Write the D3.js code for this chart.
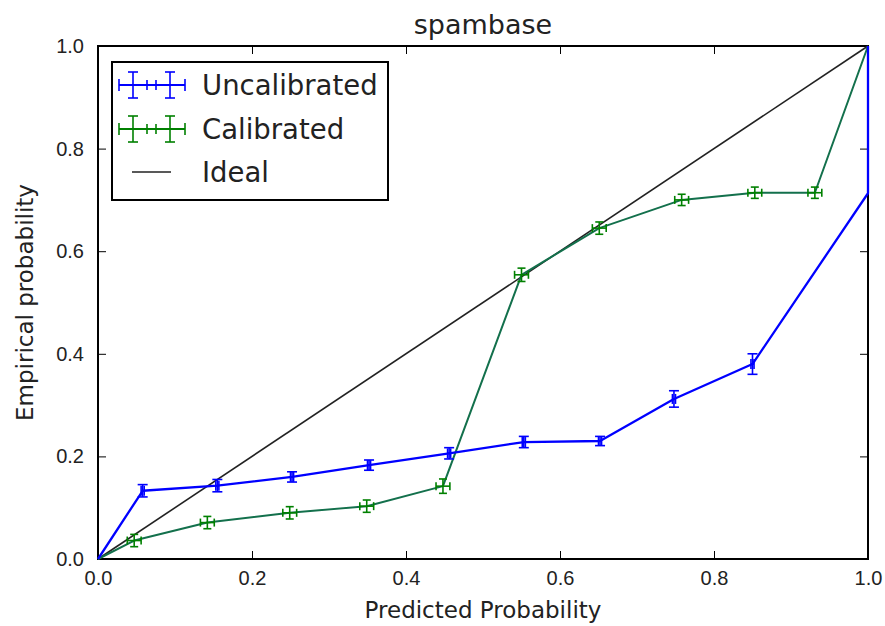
<!DOCTYPE html>
<html>
<head>
<meta charset="utf-8">
<script src="https://cdn.jsdelivr.net/npm/d3@7"></script>
<style>
  html, body { margin: 0; padding: 0; background: #fff; }
  svg { display: block; font-family: "DejaVu Sans", sans-serif; }
</style>
</head>
<body>
<svg id="chart" width="885" height="626"></svg>
<script>
// Reliability curve data for the spambase classifier
const uncalX    = [0, 0.058, 0.155, 0.252, 0.352, 0.456, 0.553, 0.652, 0.748, 0.850, 1.0, 1.0];
const uncalY    = [0, 0.133, 0.143, 0.160, 0.183, 0.206, 0.228, 0.230, 0.312, 0.380, 0.713, 1.0];
const uncalYErr = [0, 0.012, 0.012, 0.010, 0.010, 0.011, 0.011, 0.009, 0.016, 0.020, 0, 0];
const uncalXErr = [0, 0.002, 0.002, 0.002, 0.002, 0.002, 0.002, 0.002, 0.002, 0.002, 0, 0];

const calX    = [0, 0.047, 0.142, 0.249, 0.349, 0.448, 0.550, 0.651, 0.758, 0.853, 0.931, 1.0];
const calY    = [0, 0.036, 0.071, 0.090, 0.103, 0.142, 0.554, 0.645, 0.700, 0.714, 0.714, 1.0];
const calYErr = [0, 0.012, 0.012, 0.012, 0.012, 0.014, 0.013, 0.012, 0.011, 0.011, 0.011, 0];
const calXErr = [0, 0.009, 0.009, 0.009, 0.009, 0.009, 0.009, 0.009, 0.009, 0.009, 0.009, 0];

const idealX = [0, 1];
const idealY = [0, 1];

const tickValues = [0, 0.2, 0.4, 0.6, 0.8, 1.0];
const titleText = "spambase";
const xLabel = "Predicted Probability";
const yLabel = "Empirical probability";
const legendLabels = ["Uncalibrated", "Calibrated", "Ideal"];

const BLUE = "#0000ff";
const GREEN = "#008000";
const GREEN_LINE = "#13704c";
const TEXT = "#222";

const svg = d3.select("#chart");
const plotLeft = 98, plotRight = 868, plotTop = 46, plotBottom = 559;

const x = d3.scaleLinear().domain([0, 1]).range([plotLeft, plotRight]);
const y = d3.scaleLinear().domain([0, 1]).range([plotBottom, plotTop]);

// Frame first so the data lines sit on top of the spines
svg.append("rect")
  .attr("x", plotLeft).attr("y", plotTop).attr("width", plotRight - plotLeft).attr("height", plotBottom - plotTop)
  .attr("fill", "none").attr("stroke", "#000").attr("stroke-width", 2);

// Axes with inward ticks on all four sides
const fmt = d3.format(".1f");
const tickLen = 8;
function styleAxis(g) {
  g.select(".domain").remove();
  g.selectAll(".tick line").attr("stroke", "#000").attr("stroke-width", 1);
  g.selectAll(".tick text").attr("fill", TEXT).style("font-size", "20px");
}
svg.append("g").attr("transform", `translate(0,${plotBottom})`)
  .call(d3.axisBottom(x).tickValues(tickValues).tickFormat(fmt).tickSizeInner(-tickLen).tickPadding(12))
  .call(styleAxis);
svg.append("g").attr("transform", `translate(0,${plotTop})`)
  .call(d3.axisTop(x).tickValues(tickValues).tickFormat("").tickSizeInner(-tickLen))
  .call(styleAxis);
svg.append("g").attr("transform", `translate(${plotLeft},0)`)
  .call(d3.axisLeft(y).tickValues(tickValues).tickFormat(fmt).tickSizeInner(-tickLen).tickPadding(14))
  .call(styleAxis);
svg.append("g").attr("transform", `translate(${plotRight},0)`)
  .call(d3.axisRight(y).tickValues(tickValues).tickFormat("").tickSizeInner(-tickLen))
  .call(styleAxis);

const plot = svg.append("g");

// Ideal diagonal
plot.append("path")
  .datum(d3.zip(idealX, idealY))
  .attr("d", d3.line().x(d => x(d[0])).y(d => y(d[1])))
  .attr("fill", "none").attr("stroke", "#222").attr("stroke-width", 1.6);

function drawSeries(xs, ys, xe, ye, lineColor, barColor, width, cap) {
  const pts = xs.map((v, i) => ({x: v, y: ys[i], xe: xe[i], ye: ye[i]}));
  plot.append("path")
    .datum(pts)
    .attr("d", d3.line().x(d => x(d.x)).y(d => y(d.y)))
    .attr("fill", "none").attr("stroke", lineColor).attr("stroke-width", width)
    .attr("stroke-linejoin", "round");
  const bars = plot.append("g").attr("stroke", barColor).attr("stroke-width", 1.6);
  pts.filter(d => d.ye > 0).forEach(d => {
    const cx = x(d.x), y0 = y(d.y - d.ye), y1 = y(d.y + d.ye);
    bars.append("line").attr("x1", cx).attr("x2", cx).attr("y1", y0).attr("y2", y1);
    bars.append("line").attr("x1", cx - cap).attr("x2", cx + cap).attr("y1", y0).attr("y2", y0);
    bars.append("line").attr("x1", cx - cap).attr("x2", cx + cap).attr("y1", y1).attr("y2", y1);
  });
  pts.filter(d => d.xe > 0).forEach(d => {
    const cy = y(d.y), x0 = x(d.x - d.xe), x1 = x(d.x + d.xe);
    bars.append("line").attr("x1", x0).attr("x2", x1).attr("y1", cy).attr("y2", cy);
    bars.append("line").attr("x1", x0).attr("x2", x0).attr("y1", cy - cap).attr("y2", cy + cap);
    bars.append("line").attr("x1", x1).attr("x2", x1).attr("y1", cy - cap).attr("y2", cy + cap);
  });
}

drawSeries(calX, calY, calXErr, calYErr, GREEN_LINE, GREEN, 2, 4);
drawSeries(uncalX, uncalY, uncalXErr, uncalYErr, BLUE, BLUE, 2.3, 5);

// Title and axis labels
svg.append("text").attr("x", (plotLeft + plotRight) / 2).attr("y", 34)
  .attr("text-anchor", "middle").attr("fill", TEXT).style("font-size", "27px").text(titleText);
svg.append("text").attr("x", (plotLeft + plotRight) / 2).attr("y", 618)
  .attr("text-anchor", "middle").attr("fill", TEXT).style("font-size", "23px").text(xLabel);
svg.append("text").attr("transform", `translate(33,${(plotTop + plotBottom) / 2}) rotate(-90)`)
  .attr("text-anchor", "middle").attr("fill", TEXT).style("font-size", "23px").text(yLabel);

// Legend
const lg = svg.append("g");
lg.append("rect").attr("x", 112).attr("y", 62).attr("width", 276).attr("height", 138)
  .attr("fill", "#fff").attr("stroke", "#000").attr("stroke-width", 2);
const rowsY = [85, 129, 172];
const handleX0 = 119, handleX1 = 185;
function errHandle(yc, color) {
  const g = lg.append("g").attr("stroke", color).attr("stroke-width", 1.6);
  g.append("line").attr("x1", handleX0).attr("x2", handleX1).attr("y1", yc).attr("y2", yc).attr("stroke-width", 2);
  [handleX0, handleX1].forEach(px => g.append("line").attr("x1", px).attr("x2", px).attr("y1", yc - 6).attr("y2", yc + 6));
  [133, 170].forEach(px => {
    g.append("line").attr("x1", px).attr("x2", px).attr("y1", yc - 13).attr("y2", yc + 13);
    g.append("line").attr("x1", px - 5).attr("x2", px + 5).attr("y1", yc - 13).attr("y2", yc - 13);
    g.append("line").attr("x1", px - 5).attr("x2", px + 5).attr("y1", yc + 13).attr("y2", yc + 13);
  });
  [147, 156].forEach(px => g.append("line").attr("x1", px).attr("x2", px).attr("y1", yc - 5).attr("y2", yc + 5));
}
errHandle(rowsY[0], BLUE);
errHandle(rowsY[1], GREEN);
lg.append("line").attr("x1", 132).attr("x2", 171).attr("y1", rowsY[2]).attr("y2", rowsY[2])
  .attr("stroke", "#222").attr("stroke-width", 1.6);
legendLabels.forEach((t, i) => {
  lg.append("text").attr("x", 202).attr("y", rowsY[i]).attr("dy", "0.35em")
    .attr("fill", TEXT).style("font-size", "27.5px").text(t);
});
</script>
</body>
</html>
